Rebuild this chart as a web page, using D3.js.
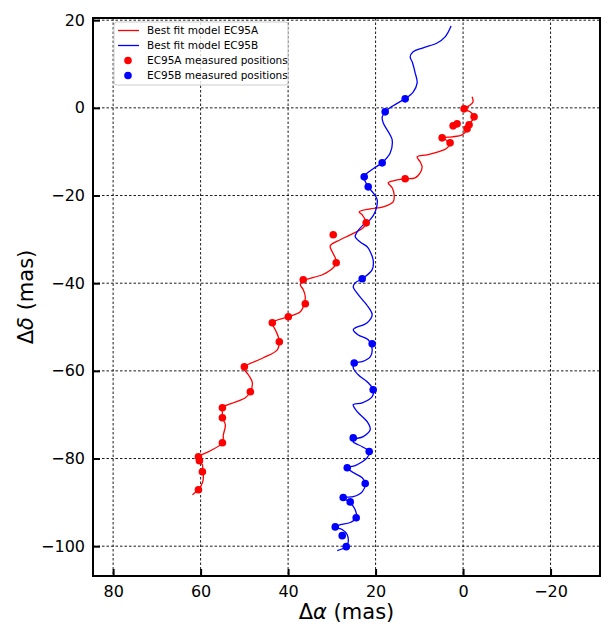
<!DOCTYPE html>
<html lang="en">
<head>
<meta charset="UTF-8">
<title>EC95 orbit fit</title>
<style>
  body { margin: 0; background: #fff; }
  text { font-family: "DejaVu Sans", sans-serif; }
</style>
</head>
<body>
<div id="chart"></div>
<script src="https://d3js.org/d3.v7.min.js"></script>
<script>
// Best fit model tracks, [delta alpha, delta delta] in mas
var modelA = [
  [-2.05, 2.51], [-2.28, 1.37], [-1.37, 0.46], [-0.23, -0.23], [-1.60, -0.91],
  [-2.51, -2.05], [-1.83, -3.19], [-1.14, -4.10], [-0.91, -5.02], [0.23, -6.16],
  [2.51, -6.61], [4.57, -6.84], [3.65, -7.53], [3.20, -8.44], [3.88, -9.35],
  [5.71, -10.03], [8.22, -10.72], [10.50, -11.17], [9.82, -12.31], [9.36, -13.45],
  [9.82, -14.82], [10.96, -15.96], [13.24, -16.19], [15.98, -16.65], [17.12, -17.10],
  [16.21, -18.24], [15.75, -19.84], [15.98, -21.44], [18.26, -22.58], [21.23, -23.03],
  [23.74, -23.72], [23.06, -24.40], [22.37, -25.54], [22.15, -26.23], [22.83, -27.37],
  [25.80, -28.96], [28.08, -30.10], [30.37, -31.47], [29.91, -32.84], [29.22, -34.21],
  [29.00, -35.35], [29.68, -36.49], [32.19, -38.08], [35.39, -39.00], [36.76, -39.45],
  [37.21, -40.36], [36.53, -41.50], [36.07, -43.10], [36.30, -44.70], [37.21, -46.52],
  [39.95, -47.66], [43.61, -49.03], [42.92, -50.63], [42.24, -52.22], [42.01, -53.36],
  [42.47, -55.19], [45.66, -57.01], [49.32, -58.61], [50.23, -59.29], [49.09, -60.89],
  [48.17, -62.71], [48.63, -64.77], [49.77, -66.13], [52.51, -67.27], [55.02, -68.42],
  [55.02, -69.56], [55.02, -70.70], [54.34, -72.29], [54.79, -74.57], [55.02, -76.40],
  [57.76, -78.22], [60.50, -79.59], [60.73, -80.27], [59.59, -81.41], [59.59, -83.01],
  [59.36, -84.15], [59.59, -85.52], [60.50, -87.11], [61.87, -88.25]
];

var modelB = [
  [2.74, 18.7], [4.11, 16.2], [5.94, 14.8], [9.13, 13.7], [11.42, 12.8],
  [12.10, 11.6], [11.64, 10.5], [10.96, 8.0], [10.50, 5.7], [11.42, 3.6],
  [13.24, 2.1], [15.98, 0.5], [17.81, -0.9], [18.49, -2.1], [18.26, -3.4],
  [16.67, -6.2], [16.21, -7.3], [16.67, -10.3], [18.49, -12.5], [20.55, -13.9],
  [22.60, -15.7], [21.69, -18.0], [20.55, -19.4], [19.63, -21.0], [20.09, -23.7],
  [21.23, -25.5], [22.83, -26.7], [24.20, -28.3], [24.66, -29.4], [23.52, -30.6],
  [21.92, -31.7], [21.23, -32.8], [20.55, -34.7], [20.78, -36.9], [23.06, -39.0],
  [24.66, -39.9], [25.11, -40.8], [23.97, -42.6], [21.69, -45.4], [20.78, -47.2],
  [21.92, -49.0], [24.66, -50.2], [25.11, -50.6], [23.97, -51.8], [21.69, -52.9],
  [20.78, -55.2], [21.23, -56.8], [23.06, -57.9], [24.66, -58.2], [25.11, -59.3],
  [23.97, -60.9], [21.69, -62.7], [20.55, -64.3], [20.78, -65.9], [23.06, -67.3],
  [25.11, -67.7], [24.20, -69.3], [21.92, -71.6], [21.23, -73.4], [22.83, -75.0],
  [25.11, -75.7], [25.11, -76.2], [23.06, -77.3], [21.46, -78.4], [21.92, -79.8],
  [24.66, -81.6], [26.48, -82.1], [25.11, -83.2], [23.06, -84.4], [22.37, -85.7],
  [23.06, -87.6], [25.11, -88.7], [27.40, -88.9], [25.80, -90.1], [24.66, -91.7],
  [24.43, -93.5], [25.80, -94.6], [28.08, -95.1], [29.22, -95.6], [27.63, -96.2],
  [26.48, -97.4], [26.26, -99.0], [26.71, -100.1], [28.77, -101.0]
];

// Measured positions
var measuredA = [
  [-0.23, -0.23], [-2.51, -2.05], [1.37, -3.65], [2.28, -4.10], [-1.37, -3.88],
  [-0.91, -4.79], [4.79, -6.84], [2.97, -7.98], [13.24, -16.19], [22.15, -26.23],
  [29.68, -28.96], [29.00, -35.35], [36.53, -39.22], [36.07, -44.70], [39.95, -47.66],
  [43.61, -49.03], [42.01, -53.36], [50.00, -59.06], [48.63, -64.77], [55.02, -68.42],
  [55.02, -70.70], [55.02, -76.40], [60.50, -79.59], [60.27, -80.50], [59.59, -83.01],
  [60.50, -87.11]
];

var measuredB = [
  [13.24, 2.05], [17.81, -0.91], [18.49, -12.54], [22.60, -15.74], [21.69, -18.02],
  [23.06, -39.0], [20.78, -53.8], [24.89, -58.2], [20.55, -64.3], [25.11, -75.3],
  [21.46, -78.4], [26.48, -82.1], [22.37, -85.7], [27.40, -88.9], [25.80, -89.9],
  [24.43, -93.5], [29.22, -95.6], [27.63, -97.6], [26.71, -100.1]
];

var xTicks = [80, 60, 40, 20, 0, -20];
var yTicks = [20, 0, -20, -40, -60, -80, -100];

var W = 611, H = 633;
var margin = { top: 18, right: 11, bottom: 57, left: 93 };
var width = W - margin.left - margin.right,
    height = H - margin.top - margin.bottom;

var x = d3.scaleLinear().domain([84.6, -31.3]).range([0, width]);
var y = d3.scaleLinear().domain([20.5, -106.8]).range([0, height]);

var svg = d3.select("#chart").append("svg")
    .attr("width", W)
    .attr("height", H);

var g = svg.append("g")
    .attr("transform", "translate(" + margin.left + "," + margin.top + ")");

// grid lines (dashed, at every tick)
g.append("g").selectAll("line").data(xTicks).enter().append("line")
    .attr("x1", function(d) { return x(d); })
    .attr("x2", function(d) { return x(d); })
    .attr("y1", 0).attr("y2", height)
    .attr("stroke", "#000").attr("stroke-width", 0.9)
    .attr("stroke-dasharray", "2.5,2");
g.append("g").selectAll("line").data(yTicks).enter().append("line")
    .attr("y1", function(d) { return y(d); })
    .attr("y2", function(d) { return y(d); })
    .attr("x1", 0).attr("x2", width)
    .attr("stroke", "#000").attr("stroke-width", 0.9)
    .attr("stroke-dasharray", "2.5,2");

// axes: ticks point inward
var fmt = function(d) { return d < 0 ? "\u2212" + Math.abs(d) : String(d); };

var xAxis = g.append("g")
    .attr("transform", "translate(0," + height + ")")
    .call(d3.axisBottom(x).tickValues(xTicks).tickFormat(fmt).tickSizeInner(-7).tickSizeOuter(0).tickPadding(15));
var yAxis = g.append("g")
    .call(d3.axisLeft(y).tickValues(yTicks).tickFormat(fmt).tickSizeInner(-7).tickSizeOuter(0).tickPadding(15));

[xAxis, yAxis].forEach(function(ax) {
    ax.select(".domain").remove();
    ax.selectAll(".tick line").attr("stroke", "#000").attr("stroke-width", 2);
    ax.selectAll(".tick text")
        .attr("fill", "#000")
        .style("font-family", "DejaVu Sans, sans-serif")
        .style("font-size", "16px");
});
xAxis.selectAll(".tick text").attr("dy", "0.71em").attr("y", 10);
yAxis.selectAll(".tick text").attr("x", -8);

// model curves
var line = d3.line()
    .x(function(d) { return x(d[0]); })
    .y(function(d) { return y(d[1]); })
    .curve(d3.curveCatmullRom.alpha(0.5));

g.append("path").datum(modelA)
    .attr("d", line).attr("fill", "none")
    .attr("stroke", "#ff0000").attr("stroke-width", 1.3);
g.append("path").datum(modelB)
    .attr("d", line).attr("fill", "none")
    .attr("stroke", "#0000ff").attr("stroke-width", 1.3);

// measured points
g.append("g").selectAll("circle").data(measuredA).enter().append("circle")
    .attr("cx", function(d) { return x(d[0]); })
    .attr("cy", function(d) { return y(d[1]); })
    .attr("r", 3.8).attr("fill", "#ff0000");
g.append("g").selectAll("circle").data(measuredB).enter().append("circle")
    .attr("cx", function(d) { return x(d[0]); })
    .attr("cy", function(d) { return y(d[1]); })
    .attr("r", 3.8).attr("fill", "#0000ff");

// frame
g.append("rect")
    .attr("width", width).attr("height", height)
    .attr("fill", "none").attr("stroke", "#000").attr("stroke-width", 2);

// axis labels
svg.append("text")
    .attr("x", margin.left + width / 2).attr("y", 619)
    .attr("text-anchor", "middle")
    .style("font-size", "21px")
    .html("\u0394<tspan font-style='italic'>\u03b1</tspan> (mas)");
svg.append("text")
    .attr("transform", "translate(33," + (margin.top + height / 2) + ") rotate(-90)")
    .attr("text-anchor", "middle")
    .style("font-size", "21px")
    .html("\u0394<tspan font-style='italic'>\u03b4</tspan> (mas)");

// legend
var legendItems = [
    { label: "Best fit model EC95A", color: "#ff0000", type: "line" },
    { label: "Best fit model EC95B", color: "#0000ff", type: "line" },
    { label: "EC95A measured positions", color: "#ff0000", type: "dot" },
    { label: "EC95B measured positions", color: "#0000ff", type: "dot" }
];
var legend = svg.append("g").attr("transform", "translate(114,22)");
legend.append("rect")
    .attr("width", 174).attr("height", 63).attr("rx", 3)
    .attr("fill", "#fff").attr("fill-opacity", 0.8)
    .attr("stroke", "#cccccc").attr("stroke-width", 1);
var rows = legend.selectAll("g.row").data(legendItems).enter().append("g")
    .attr("class", "row")
    .attr("transform", function(d, i) { return "translate(0," + (8.5 + i * 15) + ")"; });
rows.filter(function(d) { return d.type === "line"; }).append("line")
    .attr("x1", 4).attr("x2", 25).attr("y1", 0).attr("y2", 0)
    .attr("stroke", function(d) { return d.color; }).attr("stroke-width", 1.3);
rows.filter(function(d) { return d.type === "dot"; }).append("circle")
    .attr("cx", 14).attr("cy", 0).attr("r", 3.8)
    .attr("fill", function(d) { return d.color; });
rows.append("text")
    .attr("x", 33).attr("y", 0).attr("dy", "0.35em")
    .style("font-size", "10.5px")
    .text(function(d) { return d.label; });
</script>
</body>
</html>
